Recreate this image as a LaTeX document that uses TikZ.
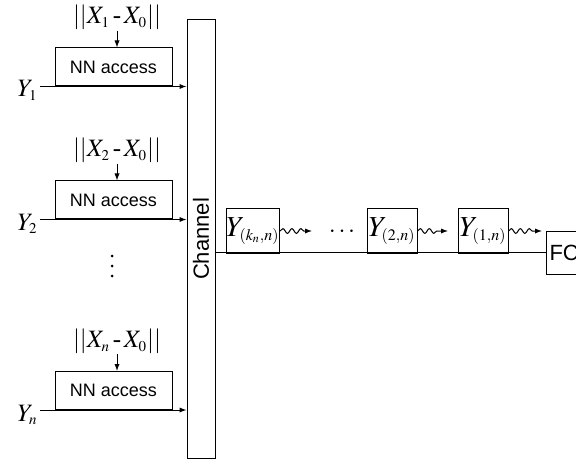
\documentclass[tikz,border=0pt]{standalone}
\usepackage{mathptmx}
\usepackage[no-math]{fontspec}
\setmainfont{Liberation Serif}
\setsansfont{Liberation Sans}
\usetikzlibrary{arrows.meta, positioning, decorations.pathmorphing}
\DeclareMathSizes{12.5}{12.5}{7.5}{5.5}
\DeclareMathSizes{14.5}{14.5}{8}{6}

\begin{document}
\begin{tikzpicture}[
    x=0.5pt, y=-0.5pt,
    every node/.style={inner sep=0pt},
    box/.style={draw, line width=0.5pt, fill=white},
    nnbox/.style={box, minimum width=58.5pt, minimum height=19pt, font=\sffamily\fontsize{9}{10}\selectfont},
    ybox/.style={box, minimum width=25pt, minimum height=22pt, font=\fontsize{14.5}{16}\selectfont},
    lbl/.style={font=\fontsize{12.5}{14}\selectfont},
    arr/.style={-{Latex[length=3.5pt, width=2.6pt]}, line width=0.5pt},
    wavy/.style={arr, decorate, decoration={snake, amplitude=1.2pt, segment length=4.5pt, post length=4pt}},
  ]
  \useasboundingbox (0,0) rectangle (576,464);
  \node[box, minimum width=14pt, minimum height=219pt] (chan) at (201,239) {};
  \node[rotate=90, font=\sffamily\fontsize{11}{12}\selectfont] (chanlbl) at (chan) {Channel};
  % sensors
  \foreach \i/\yc/\yl in {1/67/86, 2/200/219, n/390.5/410} {
    \node[nnbox] (nn\i) at (113.5,\yc) {NN access};
    \node[lbl, anchor=base] (d\i) at (117,\yc-43) {$||X_\i\,$-$\,X_0||$};
    \draw[arr] (d\i.south) -- (d\i.south |- nn\i.north);
    \node[lbl, anchor=base east, inner sep=1pt] (y\i) at (40,\yl+11) {$Y_\i$};
    \draw[arr] (y\i.east |- nn\i.south) -- (nn\i.south -| chan.west);
  }
  \foreach \k in {0,1,2}
    \fill (112,256+\k*10) circle (1.5);
  % ordered transmissions
  \node[ybox] (yk) at (253,231) {$Y_{(k_n,n)}$};
  \node[ybox] (y2n) at (392,231) {$Y_{(2,n)}$};
  \node[ybox] (y1n) at (483,231) {$Y_{(1,n)}$};
  \node[box, anchor=west, minimum height=21.5pt, text width=28pt, inner xsep=1.5pt, align=left,
        font=\sffamily\fontsize{11}{12}\selectfont] (fc) at (546,252.5) {FC};
  \node[lbl] (hdots) at (342,232) {$\cdots$};
  \coordinate (w1) at (312,231);
  \coordinate (w2) at (448,231);
  \coordinate (w3) at (542,231);
  \draw[wavy] (yk.east) -- (w1);
  \draw[wavy] (y2n.east) -- (w2);
  \draw[wavy] (y1n.east) -- (w3);
  \draw[line width=0.5pt] (chan.east |- fc.west) -- (fc.west);
\end{tikzpicture}
\end{document}
